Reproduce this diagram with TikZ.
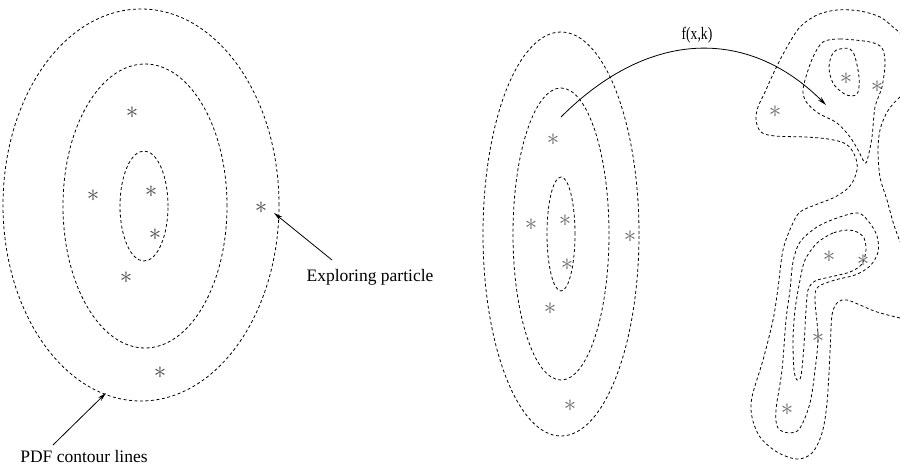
\documentclass[tikz,border=0pt]{standalone}
\usepackage{fontspec}
\setmainfont{Liberation Serif}
\usetikzlibrary{arrows.meta}

\begin{document}
\begin{tikzpicture}[x=1pt, y=-1pt,
    contour/.style={dash pattern=on 3pt off 2.5pt, line width=0.8pt},
    lstar/.style={black!70, inner sep=0pt, font=\fontsize{24.88}{25}\selectfont},
    rstar/.style={black!58, inner sep=0pt, font=\fontsize{24.88}{25}\selectfont},
    lab/.style={inner sep=0pt, font=\fontsize{17.5}{20}\selectfont},
    arr/.style={line width=0.8pt, -{Stealth[length=9pt,width=4.5pt]}}]
  % picture in pixel units: x to the right, y down, 900 x 466
  \useasboundingbox (0,0) rectangle (900,466);
  % left: prior pdf, three elliptic contours
  \draw[contour] (141,205) ellipse [x radius=138pt, y radius=196pt];
  \draw[contour] (145,206) ellipse [x radius=82pt, y radius=142pt];
  \draw[contour] (144,206) ellipse [x radius=24pt, y radius=55pt];
  \foreach \x/\y [count=\i] in {132/113, 93/196, 151/192, 155/235, 126/278, 261/208, 160/373}
     \node[lstar] (l\i) at (\x,\y) {$\ast$};
  % labels and pointers
  \node[lab] (explore) at (370,277) {Exploring particle};
  \node[lab] (pdf) at (84,457) {PDF contour lines};
  \coordinate (explore-tip) at (274,213);
  \coordinate (pdf-tip) at (106,393);
  \draw[arr] ([shift={(-38,-17)}]explore.center) -- (explore-tip);
  \draw[arr] ([shift={(-31,-12)}]pdf.center) -- (pdf-tip);
  % middle: same contours, narrower
  \draw[contour] (561,234) ellipse [x radius=78pt, y radius=202pt];
  \draw[contour] (561,234) ellipse [x radius=48pt, y radius=146pt];
  \draw[contour] (561,234) ellipse [x radius=14pt, y radius=57pt];
  \foreach \x/\y [count=\i] in {553/140, 531/225, 565/221, 567/265, 550/309, 630/237, 570/406}
     \node[rstar] (m\i) at (\x,\y) {$\ast$};
  % mapping f(x,k)
  \coordinate (f-from) at (561,117);
  \coordinate (f-to) at (826,105);
  \node[lab] (fmap) at (697,35) {\scalebox{0.78}[1]{f(x,k)}};
  \draw[arr] (f-from) .. controls (650,28) and (749,28) .. (f-to);
  % right: transformed pdf contours
  \draw[contour] plot[smooth, tension=0.55] coordinates {(900,318) (877,312) (860,305) (847,300)
     (838,302) (832,315) (830,353) (827,403) (822,433) (812,453) (797,459) (777,452) (760,437)
     (752,417) (752,397) (763,360) (773,320) (778,288) (783,250) (792,225) (800,212) (815,205)
     (835,197) (850,186) (857,170) (855,156) (846,144) (828,139) (805,137) (775,136) (761,132)
     (756,120) (758,107) (765,92) (775,70) (787,47) (800,27) (817,15) (837,10) (860,11) (880,17)
     (893,27) (900,33)};
  \draw[contour] plot[smooth, tension=0.55] coordinates {(900,97) (893,104) (886,114) (880,130)
     (878,150) (880,177) (887,200) (893,222) (900,242)};
  \draw[contour] plot[smooth cycle, tension=0.5] coordinates {(823,42) (840,39) (870,42) (882,48)
     (885,63) (882,87) (875,107) (872,137) (868,157) (865,163) (858,150) (850,137) (837,123)
     (818,113) (807,103) (803,93) (805,80) (813,57)};
  \draw[contour] plot[smooth cycle, tension=0.6] coordinates {(840,49) (850,49) (855,57) (859,77)
     (858,92) (852,96) (843,93) (833,83) (829,67) (833,53)};
  \draw[contour] plot[smooth cycle, tension=0.55] coordinates {(858,213) (837,218) (817,227)
     (800,242) (793,262) (790,290) (786,320) (782,370) (776,410) (778,428) (790,433) (800,428)
     (810,403) (815,370) (818,337) (815,300) (818,287) (835,280) (855,275) (870,266) (878,252)
     (877,236) (869,222)};
  \draw[contour] plot[smooth cycle, tension=0.5] coordinates {(848,230) (833,233) (817,243)
     (805,260) (800,280) (795,310) (793,340) (794,370) (797,380) (801,376) (804,345) (806,310)
     (808,290) (815,281) (830,277) (850,272) (862,264) (866,250) (864,238) (857,232)};
  \foreach \x/\y [count=\i] in {775/112, 846/79, 877/87, 829/257, 863/261, 818/338, 787/410}
     \node[rstar] (r\i) at (\x,\y) {$\ast$};
\end{tikzpicture}
\end{document}
